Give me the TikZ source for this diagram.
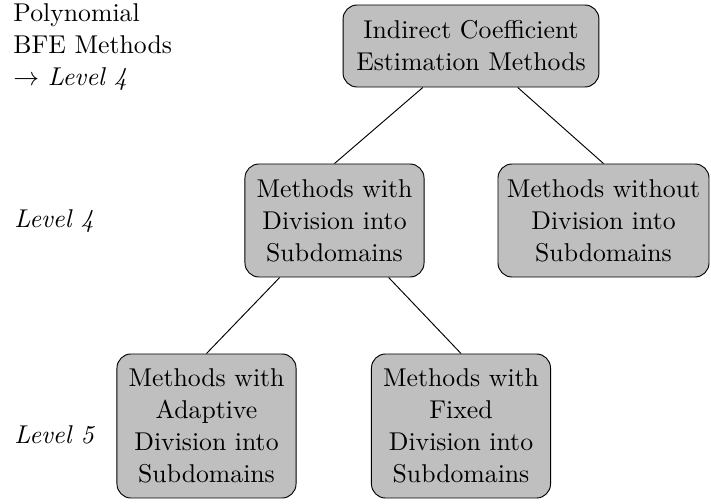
\documentclass[tikz,border=0pt]{standalone}
\begin{document}
\begin{tikzpicture}[
  x=0.42553pt, y=-0.42553pt,
  every node/.style={font=\fontsize{10.95}{13.6}\selectfont},
  method/.style={draw=black, fill=black!25, rounded corners=6pt, align=center,
                 line width=0.4pt},
  levellabel/.style={anchor=base west, inner sep=0pt},
  branch/.style={draw=black, line width=0.4pt}
]
\useasboundingbox (0,0) rectangle (711,504);

% method boxes
\node[method, minimum width=108.9pt, minimum height=34.9pt] (root) at (471,46)
  {Indirect Coefficient\\Estimation Methods};
\node[method, minimum width=76.2pt, minimum height=48.1pt] (withdiv) at (334.5,220.5)
  {Methods with\\Division into\\Subdomains};
\node[method, minimum width=89.8pt, minimum height=48.1pt] (withoutdiv) at (603.5,220.5)
  {Methods without\\Division into\\Subdomains};
\node[method, minimum width=76.2pt, minimum height=61.3pt] (adaptive) at (206.5,426)
  {Methods with\\Adaptive\\Division into\\Subdomains};
\node[method, minimum width=76.2pt, minimum height=61.3pt] (fixed) at (461,426)
  {Methods with\\Fixed\\Division into\\Subdomains};

% branches of the tree
\draw[branch] (root) -- (withdiv.north);
\draw[branch] (root) -- (withoutdiv.north);
\draw[branch] (withdiv) -- (adaptive.north);
\draw[branch] (withdiv) -- (fixed.north);

% level annotations on the left
\node[anchor=north west, inner sep=0pt, align=left] (caption) at (13,3)
  {Polynomial\\BFE Methods\\$\rightarrow$ \textit{Level 4}};
\node[levellabel] (lvlfour) at (14,227.3) {\textit{Level 4}};
\node[levellabel] (lvlfive) at (14,443.3) {\textit{Level 5}};
\end{tikzpicture}
\end{document}
